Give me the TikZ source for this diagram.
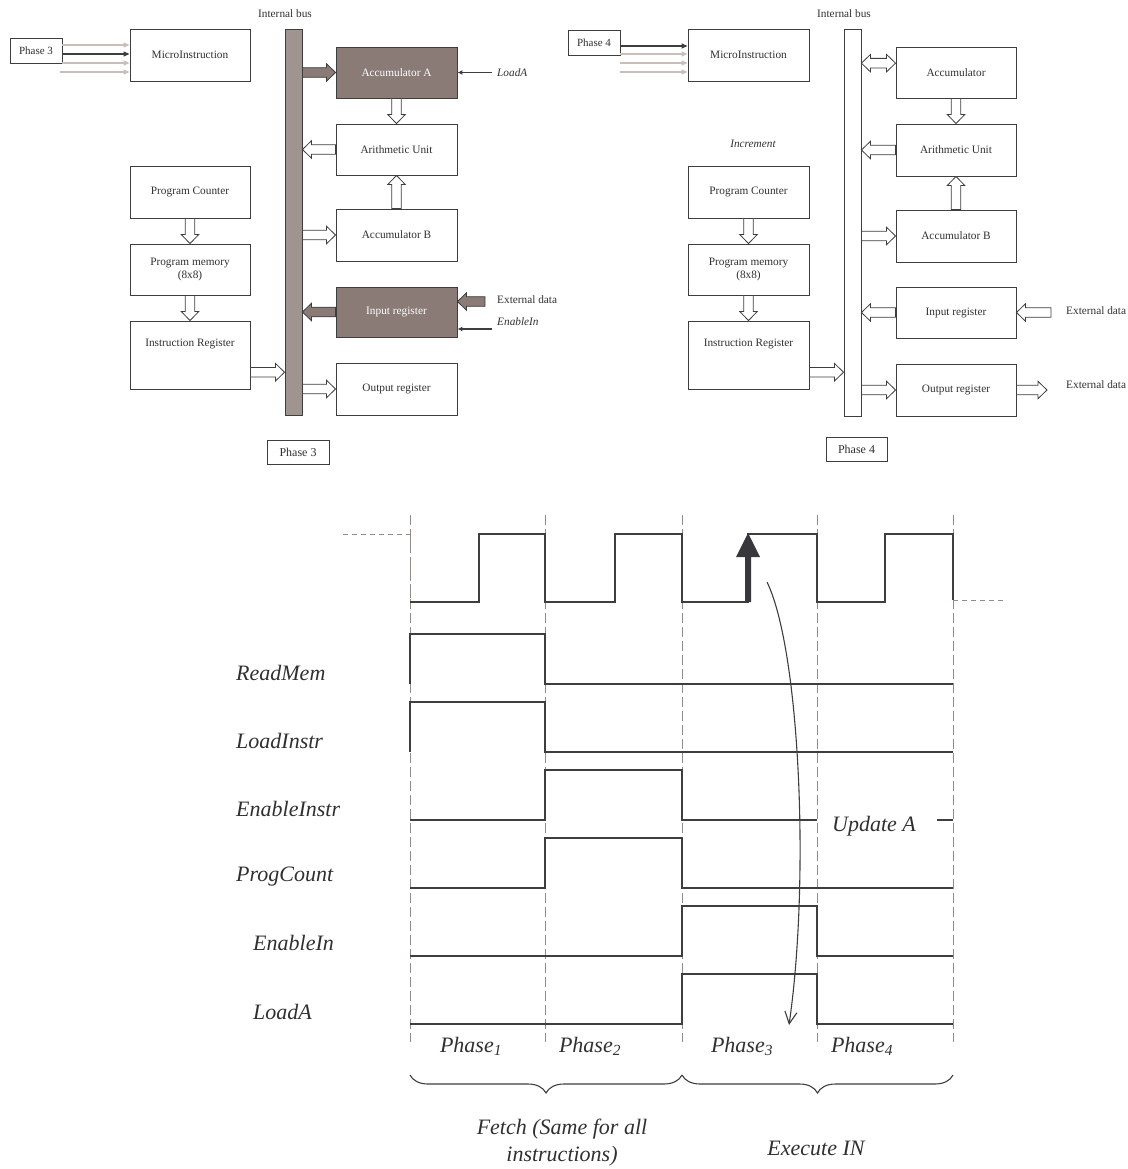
\documentclass[tikz,border=0pt]{standalone}
\usepackage{fontspec}
\setmainfont{Liberation Serif}
\usetikzlibrary{calc,arrows.meta,decorations.pathreplacing}

\definecolor{ink}{RGB}{62,62,62}
\definecolor{txt}{RGB}{48,48,48}
\definecolor{busfill}{RGB}{160,148,144}
\definecolor{hot}{RGB}{138,123,118}
\definecolor{faint}{RGB}{202,190,187}
\definecolor{gridc}{RGB}{152,138,134}
\definecolor{boltc}{RGB}{56,55,60}

\newcommand{\diagfont}{\fontsize{11.3}{13.5}\selectfont}
\newcommand{\wavefont}{\fontsize{22}{27}\selectfont\itshape}

% hollow block arrow from #2 to #3
\newcommand{\blockarrow}[3][]{%
  \coordinate (ba-h) at ($(#3)!9pt!(#2)$);
  \draw[blk,#1] ($(#2)!4.8pt!90:(#3)$) -- ($(ba-h)!4.8pt!90:(#3)$)
    -- ($(ba-h)!8.7pt!90:(#3)$) -- (#3) -- ($(ba-h)!8.7pt!-90:(#3)$)
    -- ($(ba-h)!4.8pt!-90:(#3)$) -- ($(#2)!4.8pt!-90:(#3)$) -- cycle;}
% block arrow with heads at both ends
\newcommand{\dblockarrow}[3][]{%
  \coordinate (ba-h) at ($(#3)!9pt!(#2)$);
  \coordinate (ba-t) at ($(#2)!9pt!(#3)$);
  \draw[blk,#1] (#2) -- ($(ba-t)!8.7pt!90:(#3)$) -- ($(ba-t)!4.8pt!90:(#3)$)
    -- ($(ba-h)!4.8pt!90:(#3)$) -- ($(ba-h)!8.7pt!90:(#3)$) -- (#3)
    -- ($(ba-h)!8.7pt!-90:(#3)$) -- ($(ba-h)!4.8pt!-90:(#3)$)
    -- ($(ba-t)!4.8pt!-90:(#3)$) -- ($(ba-t)!8.7pt!-90:(#3)$) -- cycle;}

\tikzset{
  unit/.style={draw=ink, line width=0.9pt, fill=white, text=txt, font=\diagfont,
    inner sep=0pt, align=center, minimum width=121pt, minimum height=51pt},
  hot/.style={fill=hot, text=white},
  tag/.style={draw=ink, line width=0.8pt, fill=white, text=txt, font=\fontsize{11}{13}\selectfont,
    inner sep=0pt, minimum width=52pt, minimum height=25pt},
  bus/.style={draw=ink, line width=0.9pt, inner sep=0pt, minimum width=17pt},
  lbl/.style={text=txt, font=\diagfont, inner sep=0pt},
  ilbl/.style={text=txt, font=\diagfont\itshape, inner sep=0pt},
  blk/.style={draw=ink, line width=0.8pt, fill=white, line join=miter},
  hotblk/.style={fill=hot},
  feed/.style={line width=1.3pt, -{Triangle[length=6pt,width=5pt]}},
  ctl/.style={line width=1.1pt, draw=ink, -{Latex[length=5pt,width=5pt]}},
  gridline/.style={draw=gridc, line width=1pt, dash pattern=on 10pt off 4pt},
  leadin/.style={draw=gridc, line width=1pt, dash pattern=on 5pt off 4pt},
  wave/.style={draw=ink, line width=1.4pt, line join=miter},
  wlbl/.style={text=txt, font=\wavefont, inner sep=0pt},
  brace/.style={draw=ink, line width=1.1pt, decorate,
    decoration={brace, mirror, amplitude=18pt}},
}

\begin{document}
\begin{tikzpicture}[x=1pt,y=-1pt]
\useasboundingbox (0,0) rectangle (1127,1169);

% ---------------- datapath, phase 3 ----------------
\node[tag] (ph3a) at (36,50.5) {Phase 3};
\node[unit, minimum width=120pt, minimum height=52pt] (micA) at (190,55) {MicroInstruction};
\node[bus, fill=busfill, minimum height=386pt] (busA) at (293.5,222) {};
\node[lbl] (busAl) at (285,14) {Internal bus};
\node[unit, hot] (accA) at (396.5,72.5) {Accumulator A};
\node[unit] (auA) at (396.5,149.5) {Arithmetic Unit};
\node[unit, minimum height=52pt] (accBA) at (396.5,235) {Accumulator B};
\node[unit, hot, minimum height=50pt] (inA) at (396.5,312) {Input register};
\node[unit, minimum height=52pt] (outA) at (396.5,389) {Output register};
\node[unit, minimum width=120pt, minimum height=52pt] (pcA) at (190,192) {Program Counter};
\node[unit, minimum width=120pt] (pmA) at (190,269.5) {Program memory\\(8x8)};
\node[unit, minimum width=120pt, minimum height=68pt, text height=8pt, text depth=25pt]
  (irA) at (190,355) {Instruction Register};
\node[tag, minimum width=62pt, minimum height=24pt, font=\fontsize{12}{14}\selectfont]
  (ph3b) at (298,452) {Phase 3};

\draw[feed, draw=faint] (ph3a.east |- 0,45) -- (micA.west |- 0,45);
\draw[feed, draw=ink]   (ph3a.east |- 0,54) -- (micA.west |- 0,54);
\draw[feed, draw=faint] (ph3a.east |- 0,63) -- (micA.west |- 0,63);
\draw[feed, draw=faint] (60,72) -- (micA.west |- 0,72);

\blockarrow[hotblk]{busA.east |- accA.west}{accA.west}
\blockarrow{accA.south}{auA.north}
\blockarrow{auA.west}{busA.east |- auA.west}
\blockarrow{accBA.north}{auA.south}
\blockarrow{busA.east |- accBA.west}{accBA.west}
\blockarrow[hotblk]{inA.west}{busA.east |- inA.west}
\coordinate (extA) at (485,301.5);
\blockarrow[hotblk]{extA}{inA.east |- extA}
\blockarrow{busA.east |- outA.west}{outA.west}
\blockarrow{pcA.south}{pmA.north}
\blockarrow{pmA.south}{irA.north}
\coordinate (irAp) at ($(irA.north east)!0.75!(irA.south east)$);
\blockarrow{irAp}{busA.west |- irAp}

\coordinate (ldA) at (492,72.5);
\draw[ctl] (ldA) -- (accA.east);
\node[ilbl, anchor=west] (ldAl) at (497,72.5) {LoadA};
\node[lbl, anchor=west] (extAl) at (497,300) {External data};
\coordinate (enA) at (492,329);
\draw[ctl] (enA) -- (inA.east |- enA);
\node[ilbl, anchor=west] (enAl) at (497,322) {EnableIn};

% ---------------- datapath, phase 4 ----------------
\node[tag] (ph4a) at (594,42.5) {Phase 4};
\node[unit, minimum height=52pt] (micB) at (748.5,55) {MicroInstruction};
\node[bus, fill=white, minimum height=387pt] (busB) at (852.5,222.5) {};
\node[lbl] (busBl) at (844,14) {Internal bus};
\node[unit, minimum width=120pt] (accB) at (956,72.5) {Accumulator};
\node[unit, minimum width=120pt, minimum height=52pt] (auB) at (956,150) {Arithmetic Unit};
\node[unit, minimum width=120pt, minimum height=52pt] (accBB) at (956,236) {Accumulator B};
\node[unit, minimum width=120pt] (inB) at (956,312.5) {Input register};
\node[unit, minimum width=120pt, minimum height=52pt] (outB) at (956,390) {Output register};
\node[unit, minimum height=52pt] (pcB) at (748.5,192) {Program Counter};
\node[unit] (pmB) at (748.5,269.5) {Program memory\\(8x8)};
\node[unit, minimum height=68pt, text height=8pt, text depth=25pt]
  (irB) at (748.5,355) {Instruction Register};
\node[tag, minimum width=61pt, minimum height=24pt, font=\fontsize{12}{14}\selectfont]
  (ph4b) at (856.5,449) {Phase 4};
\node[ilbl] (incl) at (753,144) {Increment};

\draw[feed, draw=ink]   (ph4a.east |- 0,46) -- (micB.west |- 0,46);
\draw[feed, draw=faint] (ph4a.east |- 0,54) -- (micB.west |- 0,54);
\draw[feed, draw=faint] (ph4a.east |- 0,63) -- (micB.west |- 0,63);
\draw[feed, draw=faint] (ph4a.east |- 0,72) -- (micB.west |- 0,72);

\coordinate (accBp) at ($(accB.north west)!0.32!(accB.south west)$);
\dblockarrow{busB.east |- accBp}{accBp}
\blockarrow{accB.south}{auB.north}
\blockarrow{auB.west}{busB.east |- auB.west}
\blockarrow{accBB.north}{auB.south}
\blockarrow{busB.east |- accBB.west}{accBB.west}
\blockarrow{inB.west}{busB.east |- inB.west}
\coordinate (extB) at (1051,312.5);
\blockarrow{extB}{inB.east |- extB}
\blockarrow{busB.east |- outB.west}{outB.west}
\coordinate (extC) at (1047,390);
\blockarrow{outB.east}{extC}
\blockarrow{pcB.south}{pmB.north}
\blockarrow{pmB.south}{irB.north}
\coordinate (irBp) at ($(irB.north east)!0.75!(irB.south east)$);
\blockarrow{irBp}{busB.west |- irBp}

\node[lbl, anchor=west] (extBl) at (1066,311) {External data};
\node[lbl, anchor=west] (extCl) at (1066,385) {External data};

% ---------------- timing diagram ----------------
\foreach \x in {410,545,682,817,953}
  \draw[gridline] (\x,515) -- (\x,1042);

% clock
\draw[leadin] (343,534) -- (410,534) -- (410,602);
\draw[wave] (410,602) -- (479,602) -- (479,534) -- (545,534) -- (545,602)
  -- (615,602) -- (615,534) -- (682,534) -- (682,602) -- (748,602) -- (748,534)
  -- (817,534) -- (817,602) -- (885,602) -- (885,534) -- (953,534) -- (953,600);
\draw[leadin] (953,600) -- (1005,600);
% rising edge that triggers the update
\fill[boltc] (745,602) -- (745,557) -- (736,557) -- (748,533) -- (760,557)
  -- (751,557) -- (751,602) -- cycle;

% control signals
\draw[wave] (410,684) -- (410,634) -- (545,634) -- (545,684) -- (953,684);
\draw[wave] (410,752) -- (410,702) -- (545,702) -- (545,752) -- (953,752);
\draw[wave] (410,820) -- (545,820) -- (545,770) -- (682,770) -- (682,820) -- (817,820);
\draw[wave] (937,820) -- (953,820);
\draw[wave] (410,888) -- (545,888) -- (545,838) -- (682,838) -- (682,888) -- (953,888);
\draw[wave] (410,956) -- (682,956) -- (682,906) -- (817,906) -- (817,956) -- (953,956);
\draw[wave] (410,1024) -- (682,1024) -- (682,974) -- (817,974) -- (817,1024) -- (953,1024);

\node[wlbl, anchor=west] (sg1) at (236,673) {ReadMem};
\node[wlbl, anchor=west] (sg2) at (236,741) {LoadInstr};
\node[wlbl, anchor=west] (sg3) at (236,809) {EnableInstr};
\node[wlbl, anchor=west] (sg4) at (236,877) {ProgCount};
\node[wlbl, anchor=west] (sg5) at (253,943) {EnableIn};
\node[wlbl, anchor=west] (sg6) at (253,1012) {LoadA};
\node[wlbl] (upd) at (874,826) {Update A};

\node[wlbl] (p1) at (471,1046) {Phase\textsubscript{1}};
\node[wlbl] (p2) at (590,1046) {Phase\textsubscript{2}};
\node[wlbl] (p3) at (742,1046) {Phase\textsubscript{3}};
\node[wlbl] (p4) at (862,1046) {Phase\textsubscript{4}};

\draw[brace] (410,1075) -- (682,1075);
\draw[brace] (682,1075) -- (953,1075);
\node[wlbl, align=center] (fetch) at (562,1143) {Fetch (Same for all\\instructions)};
\node[wlbl] (exec) at (816,1148) {Execute IN};

% causal link from the clock edge to the load of A
\coordinate (edge) at (767,582);
\coordinate (load) at (789,1025);
\draw[draw=ink, line width=1.1pt, -{Straight Barb[length=12pt,width=12pt]}]
  (edge) .. controls (800,650) and (810,880) .. (load);
\end{tikzpicture}
\end{document}
